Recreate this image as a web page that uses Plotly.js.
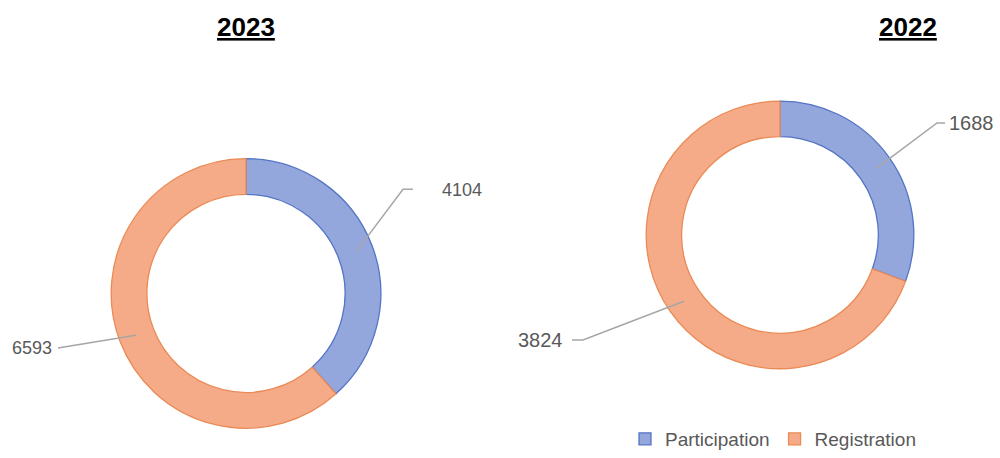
<!DOCTYPE html>
<html>
<head>
<meta charset="utf-8">
<script src="https://cdn.plot.ly/plotly-3.0.1.min.js"></script>
<style>html,body{margin:0;padding:0;background:#fff}#chart{width:1000px;height:458px}</style>
</head>
<body>
<div id="chart"></div>
<script>
// ---- data ----
const categories = ["Participation", "Registration"];
const years = ["2023", "2022"];
const values2023 = [4104, 6593];
const values2022 = [1688, 3824];

// ---- styling ----
const W = 1000, H = 458;
const fillColors = ["#94a7dd", "#f5ab88"];
const lineColors = ["#5474c4", "#ea8a55"];
const labelColor = "#595959";
const leaderColor = "#a6a6a6";

// pie geometry in pixels (center, outer radius)
const pies = [
  {values: values2023, cx: 246, cy: 296, r: 136, title: years[0], titleX: 246,
   labelFont: 18,
   leaders: [{elbow: [403, 191], end: [413, 191], label: [440, 192], anchor: "left"},
             {elbow: [58, 351], end: [58, 351], label: [54, 351], anchor: "right"}]},
  {values: values2022, cx: 780, cy: 237, r: 135, title: years[1], titleX: 908,
   labelFont: 20,
   leaders: [{elbow: [937, 124], end: [945, 124], label: [947, 124], anchor: "left"},
             {elbow: [583, 343], end: [572, 343], label: [565, 343], anchor: "right"}]}
];
const holeRatio = 0.735;

const px = x => x / W;
const py = y => 1 - y / H;

const traces = pies.map((p, i) => ({
  type: "pie",
  values: p.values,
  labels: categories,
  hole: holeRatio,
  sort: false,
  direction: "clockwise",
  rotation: 0,
  textinfo: "none",
  hoverinfo: "label+value",
  showlegend: i === 1,
  marker: {colors: fillColors, line: {color: lineColors, width: 1.3}},
  domain: {x: [px(p.cx - p.r), px(p.cx + p.r)], y: [py(p.cy + p.r), py(p.cy - p.r)]}
}));

const shapes = [];
const annotations = [];
pies.forEach(p => {
  const total = p.values.reduce((a, b) => a + b, 0);
  let cum = 0;
  p.values.forEach((v, k) => {
    const mid = (cum + v / 2) / total * 2 * Math.PI;
    cum += v;
    const rm = p.r * (1 + holeRatio) / 2;
    const sx = p.cx + rm * Math.sin(mid);
    const sy = p.cy - rm * Math.cos(mid);
    const L = p.leaders[k];
    shapes.push({
      type: "path", xref: "paper", yref: "paper",
      path: `M ${px(sx)} ${py(sy)} L ${px(L.elbow[0])} ${py(L.elbow[1])} L ${px(L.end[0])} ${py(L.end[1])}`,
      line: {color: leaderColor, width: 1.5}
    });
    annotations.push({
      xref: "paper", yref: "paper", x: px(L.label[0]), y: py(L.label[1]),
      xanchor: L.anchor, yanchor: "middle", showarrow: false,
      text: String(v),
      font: {family: "Liberation Sans, Arial, sans-serif", size: p.labelFont, color: labelColor}
    });
  });
  annotations.push({
    xref: "paper", yref: "paper", x: px(p.titleX), y: py(27),
    xanchor: "center", yanchor: "middle", showarrow: false,
    text: `<b><u>${p.title}</u></b>`,
    font: {family: "Liberation Sans, Arial, sans-serif", size: 26, color: "#000"}
  });
});

const layout = {
  width: W, height: H,
  margin: {l: 0, r: 0, t: 0, b: 0},
  paper_bgcolor: "#fff",
  plot_bgcolor: "#fff",
  showlegend: true,
  legend: {
    orientation: "h", x: px(625), y: py(443), xanchor: "left", yanchor: "middle",
    font: {family: "Liberation Sans, Arial, sans-serif", size: 19, color: labelColor},
    itemwidth: 30, tracegroupgap: 0
  },
  shapes: shapes,
  annotations: annotations
};

Plotly.newPlot("chart", traces, layout, {displayModeBar: false, staticPlot: true});
</script>
</body>
</html>
